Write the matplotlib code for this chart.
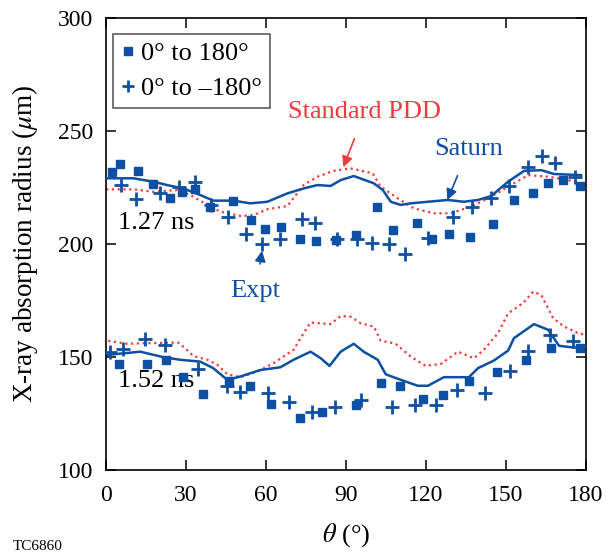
import numpy as np
import matplotlib
matplotlib.use("Agg")
import matplotlib.pyplot as plt

plt.rcParams['font.family'] = ['Liberation Serif', 'DejaVu Serif']
plt.rcParams['mathtext.fontset'] = 'stix'

blue = '#0d4fa3'
red = '#ee3b3b'

# 1.27 ns - expt, 0 to 180
sq_top_x = [2.1, 5.3, 12.1, 17.6, 23.8, 28.5, 33.5, 39.1, 47.6, 54.5, 59.5, 65.8, 72.6, 78.8,
            86.1, 93.6, 101.5, 107.8, 116.5, 122.4, 128.5, 136.5, 145.0, 152.9, 160.0, 165.7, 171.3, 177.9]
sq_top_y = [232.0, 235.3, 232.4, 226.4, 220.5, 223.1, 224.2, 216.5, 219.2, 210.6, 206.8, 207.7, 202.2, 201.2,
            201.8, 204.0, 216.5, 206.2, 209.4, 202.3, 204.6, 203.2, 209.0, 219.5, 222.7, 227.1, 228.3, 225.8]
# 1.27 ns - expt, 0 to -180
pl_top_x = [5.5, 11.3, 20.3, 27.4, 33.5, 39.5, 45.8, 52.5, 58.3, 65.4, 73.6, 78.3, 86.7, 94.2,
            99.9, 106.1, 112.1, 120.8, 130.3, 137.2, 144.4, 151.2, 158.4, 163.5, 168.5, 175.7]
pl_top_y = [226.1, 219.8, 222.7, 225.4, 227.6, 217.3, 212.1, 204.3, 199.9, 202.2, 211.1, 209.2, 202.1, 202.1,
            200.3, 199.9, 195.4, 202.5, 212.1, 216.5, 220.2, 225.7, 233.9, 238.9, 235.7, 229.8]
# 1.27 ns - Saturn
sat_top_x = [0, 1.5, 10.2, 17.7, 22.9, 28.9, 35.3, 40.2, 47.7, 54.1, 60.5, 68.0, 74.1, 79.3, 84.2, 88.0,
             92.9, 100.4, 103.8, 106.8, 110.5, 114.3, 120.7, 128.2, 134.2, 139.5, 144.4, 150.8, 156.8,
             163.2, 168.0, 178.2]
sat_top_y = [229.1, 229.1, 229.1, 227.6, 226.1, 224.6, 221.7, 219.2, 219.2, 218.0, 218.7, 222.4, 224.6, 226.1,
             225.7, 228.3, 230.1, 226.9, 223.9, 218.7, 217.3, 218.0, 218.7, 219.5, 218.7, 219.5, 221.2,
             227.6, 232.4, 232.7, 231.0, 230.5]
# 1.27 ns - Standard PDD
pdd_top_x = [0, 1.5, 10.2, 17.7, 26.7, 31.6, 38.0, 42.9, 50.4, 55.3, 60.5, 68.0, 74.1, 79.3, 85.3, 91.7,
             100.0, 103.0, 109.4, 115.4, 122.9, 129.3, 136.8, 144.4, 150.8, 158.3, 165.8, 173.3, 180.0]
pdd_top_y = [224.2, 224.2, 224.2, 223.1, 223.9, 221.7, 217.3, 214.3, 212.4, 212.8, 215.4, 216.8, 226.1, 229.8,
             232.4, 233.5, 231.3, 225.4, 220.2, 215.8, 213.6, 213.6, 216.5, 220.9, 225.4, 230.5, 229.8,
             228.3, 226.1]

# 1.52 ns - expt, 0 to 180
sq_bot_x = [4.9, 15.3, 22.6, 28.8, 36.4, 46.0, 53.8, 61.7, 72.6, 81.1, 93.6, 103.0, 110.2, 118.7,
            126.2, 136.0, 146.5, 157.5, 166.8, 177.8]
sq_bot_y = [146.9, 146.9, 148.7, 141.3, 133.6, 139.5, 136.9, 129.2, 123.1, 125.8, 128.8, 138.6, 136.9, 131.3,
            133.2, 139.1, 143.5, 148.7, 154.1, 154.1]
# 1.52 ns - expt, 0 to -180
pl_bot_x = [1.5, 6.5, 14.7, 22.2, 34.5, 45.4, 50.4, 60.8, 68.8, 77.1, 85.8, 95.5, 107.4, 115.8,
            123.9, 131.6, 142.2, 151.6, 158.2, 166.5, 175.3]
pl_bot_y = [152.3, 153.4, 157.8, 155.3, 144.6, 136.9, 134.6, 133.9, 130.2, 125.8, 127.7, 130.7, 128.0, 128.8,
            128.5, 135.4, 133.9, 143.9, 152.8, 159.7, 157.1]
# 1.52 ns - Saturn
sat_bot_x = [0.8, 12.8, 21.4, 27.8, 35.3, 40.2, 45.5, 50.4, 57.9, 65.4, 70.3, 76.7, 80.5, 83.8, 88.0,
             92.9, 96.6, 101.9, 104.9, 109.4, 116.9, 120.7, 126.7, 136.1, 139.5, 145.5, 150.8, 153.0,
             160.5, 165.8, 169.9, 175.6, 180.0]
sat_bot_y = [150.9, 152.3, 149.9, 148.7, 147.9, 145.0, 139.8, 141.3, 144.2, 145.4, 148.7, 152.3, 149.4, 146.0,
             152.3, 155.8, 152.3, 148.7, 142.3, 140.3, 137.2, 137.2, 141.0, 141.0, 145.0, 148.4, 152.8,
             158.3, 164.5, 162.0, 154.9, 154.1, 154.6]
# 1.52 ns - Standard PDD
pdd_bot_x = [0.8, 7.9, 16.5, 27.1, 29.7, 32.7, 38.0, 41.7, 45.5, 50.4, 56.8, 62.8, 70.3, 74.1, 76.7,
             84.2, 88.0, 91.7, 95.5, 100.4, 103.0, 108.6, 114.3, 119.9, 125.6, 132.0, 138.0, 141.7,
             147.0, 150.8, 156.4, 160.2, 163.2, 167.7, 171.8, 177.1, 180.0]
pdd_bot_y = [157.1, 155.8, 156.1, 156.3, 153.8, 150.4, 148.7, 146.5, 142.3, 141.0, 143.5, 147.2, 153.1, 160.5,
             165.2, 164.5, 168.1, 167.8, 164.9, 163.4, 157.2, 155.8, 150.1, 146.0, 146.9, 152.3, 149.4,
             153.1, 160.5, 169.3, 173.8, 178.9, 177.4, 167.1, 163.4, 160.5, 159.7]

xticks = [0, 30, 60, 90, 120, 150, 180]
yticks = [100, 150, 200, 250, 300]

fig = plt.figure(figsize=(6.06, 5.52), dpi=100)
ax = fig.add_axes([0.175, 0.149, 0.792, 0.818])

ax.plot(pdd_top_x, pdd_top_y, color=red, lw=1.6, ls=(0, (1, 1.6)), zorder=2)
ax.plot(pdd_bot_x, pdd_bot_y, color=red, lw=1.6, ls=(0, (1, 1.6)), zorder=2)
ax.plot(sat_top_x, sat_top_y, color=blue, lw=1.8, zorder=3)
ax.plot(sat_bot_x, sat_bot_y, color=blue, lw=1.8, zorder=3)

ax.plot(sq_top_x, sq_top_y, 's', color=blue, ms=6, zorder=4, label='0° to 180°')
ax.plot(pl_top_x, pl_top_y, '+', color=blue, ms=10, mew=2, zorder=4, label='0° to \u2013180°')
ax.plot(sq_bot_x, sq_bot_y, 's', color=blue, ms=6, zorder=4)
ax.plot(pl_bot_x, pl_bot_y, '+', color=blue, ms=10, mew=2, zorder=4)

ax.set_xlim(0, 180)
ax.set_ylim(100, 300)
ax.set_xticks(xticks)
ax.set_yticks(yticks)
ax.tick_params(direction='in', length=7, width=1.1, top=True, right=True, labelsize=17)
ax.tick_params(axis='x', pad=11)
ax.tick_params(axis='y', pad=9)
for s in ax.spines.values():
    s.set_linewidth(1.2)

ax.set_xlabel(r'$\theta$ (°)', fontsize=19, labelpad=11)
ax.set_ylabel(r'X-ray absorption radius ($\mu$m)', fontsize=19.5, labelpad=13)

ax.text(18.8, 209.5, '1.27 ns', fontsize=19, ha='center', va='center')
ax.text(18.8, 139.5, '1.52 ns', fontsize=19, ha='center', va='center')

ax.annotate('Standard PDD', xy=(89, 234), xytext=(97, 258.5), color=red, fontsize=19,
            ha='center', va='center',
            arrowprops=dict(arrowstyle='-|>', color=red, lw=1.2, mutation_scale=16, shrinkA=10, shrinkB=0))
ax.annotate('Saturn', xy=(128, 219.5), xytext=(136, 242), color=blue, fontsize=19,
            ha='center', va='center',
            arrowprops=dict(arrowstyle='-|>', color=blue, lw=1.2, mutation_scale=16, shrinkA=10, shrinkB=0))
ax.annotate('Expt', xy=(58.5, 197), xytext=(56, 179), color=blue, fontsize=19,
            ha='center', va='center',
            arrowprops=dict(arrowstyle='-|>', color=blue, lw=1.2, mutation_scale=16, shrinkA=10, shrinkB=0))

leg = ax.legend(loc='upper left', bbox_to_anchor=(0.0146, 0.965), borderaxespad=0,
                fontsize=19, frameon=True, fancybox=False, edgecolor='#333333',
                handlelength=0.55, handletextpad=0.2, borderpad=0.3, labelspacing=0.42,
                markerscale=0.9)
leg.get_frame().set_linewidth(1.2)

fig.text(0.021, 0.004, 'TC6860', fontsize=11)

fig.savefig('out.png', dpi=100)
